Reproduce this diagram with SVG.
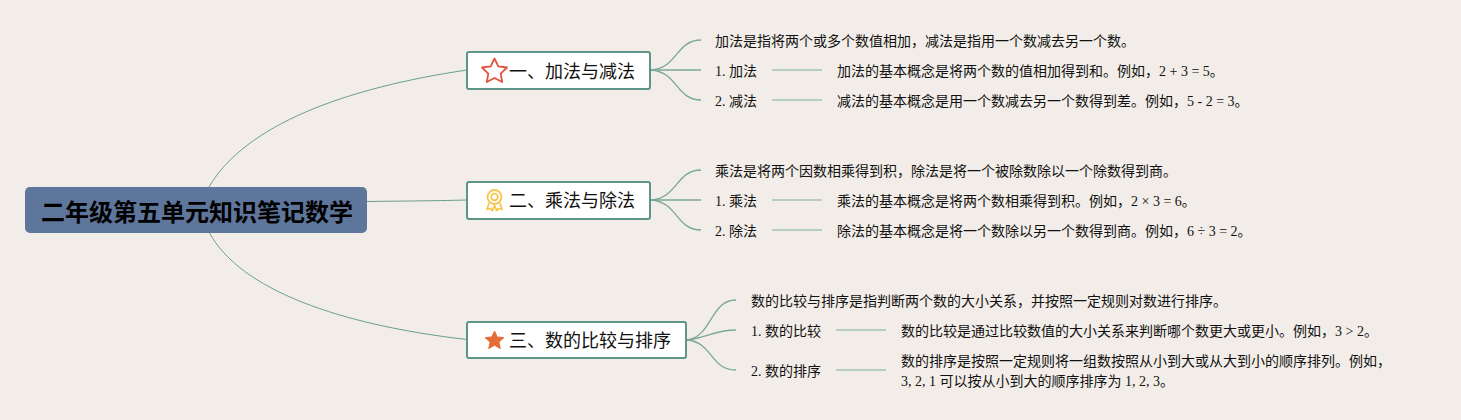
<svg xmlns="http://www.w3.org/2000/svg" width="1461" height="420" viewBox="0 0 1461 420">
<style>
text{font-family:"Liberation Serif","Noto Sans CJK SC",serif;fill:#111}
.t{font-size:14px}
.b{font-size:18px}
.box{fill:#fff;stroke:#5f9488;stroke-width:2}
.c1{fill:none;stroke:#6a9f8f;stroke-width:1}
.c2{fill:none;stroke:#7aa896;stroke-width:1.300}
.c3{fill:none;stroke:#a3c2b2;stroke-width:1.500}
</style>
<rect width="1461" height="420" fill="#f2ede8"/>
<g id="connectors">
<path class="c1" d="M209 187C245 125 345 88 467 70"/>
<path class="c1" d="M367 201.500C400 201 430 201 467 200"/>
<path class="c1" d="M209 232C240 290 340 325 467 339.500"/>
<path class="c2" d="M651 70C678 68 676 40 701 40"/>
<path class="c2" d="M651 70C670 70 680 70 701 70"/>
<path class="c2" d="M651 70C678 72 676 100 701 100"/>
<path class="c3" d="M772 70H822M772 100H822"/>
<path class="c2" d="M651 200C678 198 676 170 701 170"/>
<path class="c2" d="M651 200C670 200 680 200 701 200"/>
<path class="c2" d="M651 200C678 202 676 230 701 230"/>
<path class="c3" d="M772 200H822M772 230H822"/>
<path class="c2" d="M687 340C713 336 710 300 736 300"/>
<path class="c2" d="M687 340C705 338 715 330 736 330"/>
<path class="c2" d="M687 340C713 342 710 370 736 370"/>
<path class="c3" d="M836 330H886M836 370H886"/>
</g>
<g id="root"><rect x="25" y="187" width="342" height="46" rx="5" fill="#5f769c"/>
<text x="41" y="221" font-size="24" font-weight="700" style="fill:#000">二年级第五单元知识笔记数学</text></g>
<g id="n1"><rect class="box" x="467" y="52" width="183" height="37" rx="2"/>
<path d="M494.500 58.500L498.300 66.300L507 67.500L500.700 73.600L502.200 82L494.500 78L486.800 82L488.300 73.600L482 67.500L490.700 66.300Z" fill="#fff" stroke="#e2533f" stroke-width="1.800" stroke-linejoin="round"/>
<text class="b" x="509" y="78">一、加法与减法</text></g>
<g id="n1a"><text class="t" x="715" y="46">加法是指将两个或多个数值相加，减法是指用一个数减去另一个数。</text></g>
<g id="n1b"><text class="t" x="715" y="76">1. 加法</text></g>
<g id="n1b1"><text class="t" x="837" y="76">加法的基本概念是将两个数的值相加得到和。例如，2 + 3 = 5。</text></g>
<g id="n1c"><text class="t" x="715" y="106">2. 减法</text></g>
<g id="n1c1"><text class="t" x="837" y="106">减法的基本概念是用一个数减去另一个数得到差。例如，5 - 2 = 3。</text></g>
<g id="n2"><rect class="box" x="467" y="182" width="183" height="37" rx="2"/>
<g fill="none" stroke="#f7c64a" stroke-width="1.800"><circle cx="494.500" cy="197" r="7"/><circle cx="494.500" cy="197" r="3.300"/><path d="M489 203L487 209.500L490.500 208.500L492.500 210.500L494.500 205.500L496.500 210.500L498.500 208.500L502 209.500L500 203" stroke-linejoin="round"/></g>
<text class="b" x="509" y="207">二、乘法与除法</text></g>
<g id="n2a"><text class="t" x="715" y="176">乘法是将两个因数相乘得到积，除法是将一个被除数除以一个除数得到商。</text></g>
<g id="n2b"><text class="t" x="715" y="206">1. 乘法</text></g>
<g id="n2b1"><text class="t" x="837" y="206">乘法的基本概念是将两个数相乘得到积。例如，2 × 3 = 6。</text></g>
<g id="n2c"><text class="t" x="715" y="236">2. 除法</text></g>
<g id="n2c1"><text class="t" x="837" y="236">除法的基本概念是将一个数除以另一个数得到商。例如，6 ÷ 3 = 2。</text></g>
<g id="n3"><rect class="box" x="467" y="322" width="219" height="36" rx="2"/>
<path d="M494.500 331L497.200 337L503.800 337.700L498.900 342.100L500.300 348.500L494.500 345.200L488.700 348.500L490.100 342.100L485.200 337.700L491.800 337Z" fill="#e56b37" stroke="#e56b37" stroke-width="1" stroke-linejoin="round"/>
<text class="b" x="509" y="347">三、数的比较与排序</text></g>
<g id="n3a"><text class="t" x="751" y="306">数的比较与排序是指判断两个数的大小关系，并按照一定规则对数进行排序。</text></g>
<g id="n3b"><text class="t" x="751" y="336">1. 数的比较</text></g>
<g id="n3b1"><text class="t" x="901" y="336">数的比较是通过比较数值的大小关系来判断哪个数更大或更小。例如，3 &gt; 2。</text></g>
<g id="n3c"><text class="t" x="751" y="376">2. 数的排序</text></g>
<g id="n3c1"><text class="t" x="901" y="366">数的排序是按照一定规则将一组数按照从小到大或从大到小的顺序排列。例如，</text><text class="t" x="901" y="386">3, 2, 1 可以按从小到大的顺序排序为 1, 2, 3。</text></g>
</svg>
